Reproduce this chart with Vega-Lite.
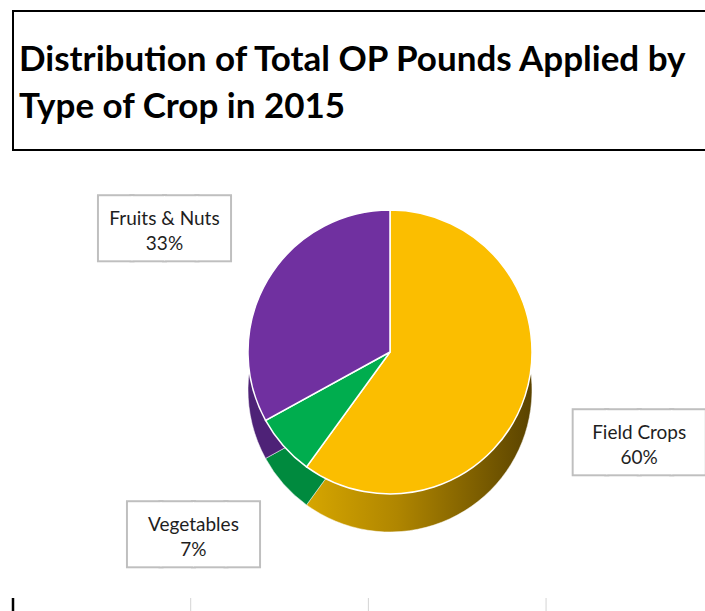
{
  "$schema": "https://vega.github.io/schema/vega-lite/v6.json",
  "padding": {"left": 11, "top": 10, "right": 0, "bottom": 0},
  "background": "white",
  "config": {"view": {"stroke": null}, "font": "Lato"},
  "datasets": {
    "crops": [
      {"crop": "Field Crops", "share": 60, "order": 1, "label": "Field Crops\n60%"},
      {"crop": "Vegetables", "share": 7, "order": 2, "label": "Vegetables\n7%"},
      {"crop": "Fruits & Nuts", "share": 33, "order": 3, "label": "Fruits & Nuts\n33%"}
    ],
    "columns": [{"col": 0}, {"col": 1}, {"col": 2}, {"col": 3}]
  },
  "spacing": 0,
  "vconcat": [
    {
      "width": 693,
      "height": 139,
      "view": {"stroke": "black", "strokeWidth": 2},
      "data": {"values": [{"title": "Distribution of Total OP Pounds Applied by\nType of Crop in 2015"}]},
      "mark": {"type": "text", "align": "left", "baseline": "alphabetic", "x": 6, "y": 60, "fontSize": 35, "fontWeight": "bold", "font": "Lato", "lineBreak": "\n", "lineHeight": 47, "color": "#000000"},
      "encoding": {"text": {"field": "title"}}
    },
    {
      "spacing": 31,
      "vconcat": [
        {
          "spacing": 0,
          "hconcat": [
            {"width": 60, "height": 10, "data": {"values": []}, "mark": "point"},
            {
              "width": 634,
              "height": 402,
              "data": {"name": "crops"},
              "encoding": {
                "theta": {"field": "share", "type": "quantitative", "stack": true},
                "order": {"field": "order", "type": "quantitative"}
              },
              "layer": [
                {
                  "mark": {"type": "arc", "radius": 142, "yOffset": 38, "stroke": "#ffffff", "strokeWidth": 0.5},
                  "encoding": {
                    "color": {
                      "field": "crop", "type": "nominal", "legend": null,
                      "scale": {"domain": ["Field Crops", "Vegetables", "Fruits & Nuts"], "range": ["#8A6A00", "#008A3E", "#4E2277"]},
                      "condition": {"test": "datum.crop === 'Field Crops'", "value": {"gradient": "linear", "x1": 0, "y1": 0, "x2": 1, "y2": 0, "stops": [{"offset": 0, "color": "#D6A600"}, {"offset": 0.4, "color": "#B08600"}, {"offset": 1, "color": "#5A4300"}]}}
                    }
                  }
                },
                {
                  "mark": {"type": "arc", "radius": 142, "stroke": "#ffffff", "strokeWidth": 1.5},
                  "encoding": {
                    "color": {
                      "field": "crop", "type": "nominal", "legend": null,
                      "scale": {"domain": ["Field Crops", "Vegetables", "Fruits & Nuts"], "range": ["#FBBE00", "#00AD4E", "#7030A0"]}
                    }
                  }
                },
                {
                  "mark": {"type": "text", "radius": 262, "dy": 12, "fontSize": 54, "font": "DejaVu Sans Mono", "align": "center", "baseline": "middle", "fill": "#ffffff", "stroke": "#bfbfbf", "strokeWidth": 4},
                  "encoding": {"text": {"value": "████"}}
                },
                {
                  "mark": {"type": "text", "radius": 262, "dy": 12, "fontSize": 54, "font": "DejaVu Sans Mono", "align": "center", "baseline": "middle", "fill": "#ffffff"},
                  "encoding": {"text": {"value": "████"}}
                },
                {
                  "mark": {"type": "text", "radius": 262, "fontSize": 19, "font": "Lato", "lineBreak": "\n", "lineHeight": 25, "align": "center", "baseline": "middle", "color": "#1e1e1e"},
                  "encoding": {"text": {"field": "label"}}
                }
              ],
              "resolve": {"scale": {"color": "independent"}}
            }
          ]
        },
        {
          "width": 693,
          "height": 29,
          "data": {"name": "columns"},
          "mark": {"type": "rule"},
          "encoding": {
            "x": {"field": "col", "type": "quantitative", "scale": {"domain": [0, 3.9]}, "axis": null},
            "color": {"condition": {"test": "datum.col === 0", "value": "#000000"}, "value": "#d4d4d4"},
            "strokeWidth": {"condition": {"test": "datum.col === 0", "value": 2.5}, "value": 1}
          }
        }
      ]
    }
  ]
}
